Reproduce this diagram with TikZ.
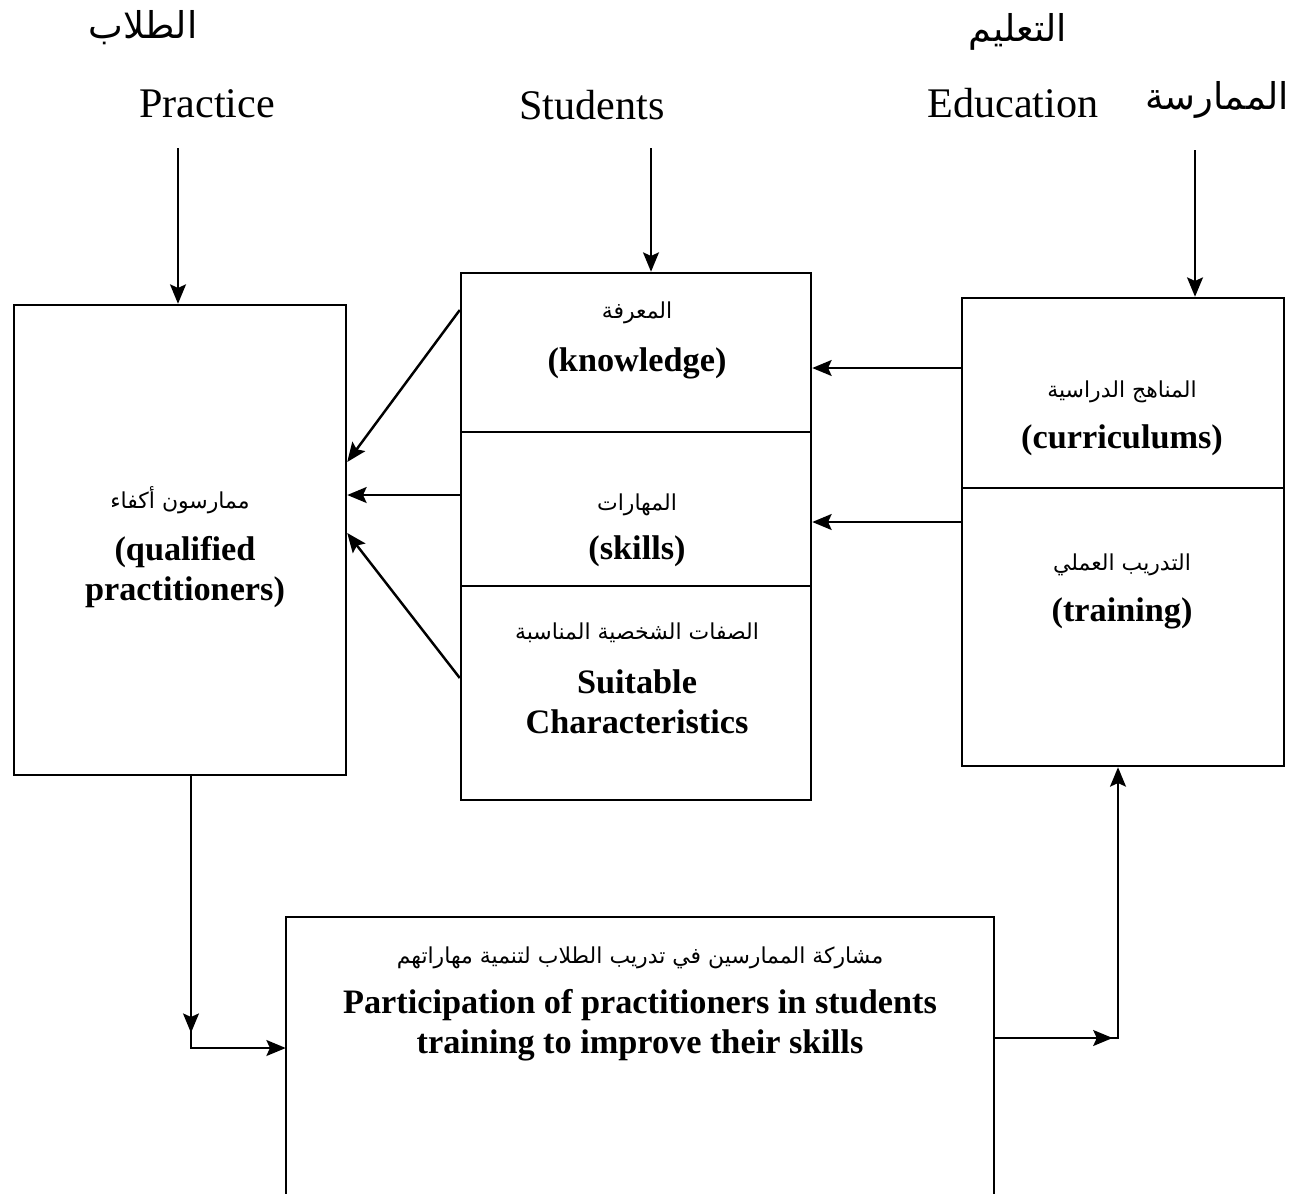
\documentclass[tikz,border=0pt]{standalone}
\usepackage{fontspec}
\setmainfont{Liberation Serif}
\newfontfamily\arabicfont[Script=Arabic]{DejaVu Sans}
\TeXXeTstate=1
\usetikzlibrary{arrows.meta,decorations.markings,fit}
\newcommand{\artxt}[1]{{\arabicfont\beginR #1\endR}}
\begin{document}
\begin{tikzpicture}[x=0.02cm,y=-0.02cm,line width=1.4pt,
  tip/.tip={Stealth[length=11pt,width=9pt,inset=2pt]},
  arr/.style={-tip},
  box/.style={draw,rectangle,inner sep=0pt},
  hdr/.style={font=\fontsize{24}{28}\selectfont,inner sep=0pt},
  hdrar/.style={font=\fontsize{21}{25}\selectfont,inner sep=0pt},
  boxar/.style={font=\fontsize{12.5}{15}\selectfont,inner sep=0pt},
  boxen/.style={font=\fontsize{19.5}{22.7}\selectfont\bfseries,align=center,inner sep=0pt},
  midarr/.style={decoration={markings,mark=at position #1 with {\arrow{tip}}},postaction={decorate}}
]
\useasboundingbox (0,0) rectangle (1300,1193);

% headers
\node[hdrar] (hStuA) at (143,28) {\artxt{الطلاب}};
\node[hdr] (hPr) at (207,104) {Practice};
\node[hdr] (hSt) at (592,105) {Students};
\node[hdrar] (hEdA) at (1018,32) {\artxt{التعليم}};
\node[hdr] (hEd) at (1013,103) {Education};
\node[hdrar] (hPrA) at (1217,100) {\artxt{الممارسة}};

% boxes
\node[box,fit={(14,305) (346,775)}] (lb) {};
\node[box,fit={(461,273) (811,432)}] (mk) {};
\node[box,fit={(461,432) (811,586)}] (ms) {};
\node[box,fit={(461,586) (811,800)}] (mc) {};
\node[box,fit={(962,298) (1284,488)}] (rc) {};
\node[box,fit={(962,488) (1284,766)}] (rt) {};
\node[inner sep=0pt,fit={(287,918) (993,1193)}] (bb) {};
\draw (bb.south west) -- (bb.north west) -- (bb.north east) -- (bb.south east);

% box texts
\node[boxar] (lbA) at (180,500) {\artxt{ممارسون أكفاء}};
\node[boxen] (lbE) at (185,572) {(qualified\\practitioners)};
\node[boxar] (mkA) at (637,313) {\artxt{المعرفة}};
\node[boxen] (mkE) at (637,363) {(knowledge)};
\node[boxar] (msA) at (637,505) {\artxt{المهارات}};
\node[boxen] (msE) at (637,551) {(skills)};
\node[boxar] (mcA) at (637,633) {\artxt{الصفات الشخصية المناسبة}};
\node[boxen] (mcE) at (637,702) {Suitable\\Characteristics};
\node[boxar] (rcA) at (1122,392) {\artxt{المناهج الدراسية}};
\node[boxen] (rcE) at (1122,440) {(curriculums)};
\node[boxar] (rtA) at (1122,565) {\artxt{التدريب العملي}};
\node[boxen] (rtE) at (1122,613) {(training)};
\node[boxar] (bbA) at (640,958) {\artxt{مشاركة الممارسين في تدريب الطلاب لتنمية مهاراتهم}};
\node[boxen] (bbE) at (640,1025) {Participation of practitioners in students\\training to improve their skills};

% header arrows
\coordinate (a1) at (178,148);
\coordinate (a2) at (651,148);
\coordinate (a3) at (1195,150);
\draw[arr] (a1) -- (a1 |- lb.north);
\draw[arr] (a2) -- (a2 |- mk.north);
\draw[arr] (a3) -- (a3 |- rc.north);

% middle to left
\draw[arr] (mk.west |- 0,310) -- (lb.east |- 0,462);
\draw[arr] (ms.west |- 0,495) -- (lb.east |- 0,495);
\draw[arr] (mc.west |- 0,678) -- (lb.east |- 0,533);

% right to middle
\draw[arr] (rc.west |- 0,368) -- (mk.east |- 0,368);
\draw[arr] (rt.west |- 0,522) -- (ms.east |- 0,522);

% bottom loops
\draw[arr,midarr=0.70] (lb.south -| 191,0) |- (bb.west |- 0,1048);
\draw[arr,midarr=0.30] (bb.east |- 0,1038) -| (rt.south -| 1118,0);
\end{tikzpicture}
\end{document}
